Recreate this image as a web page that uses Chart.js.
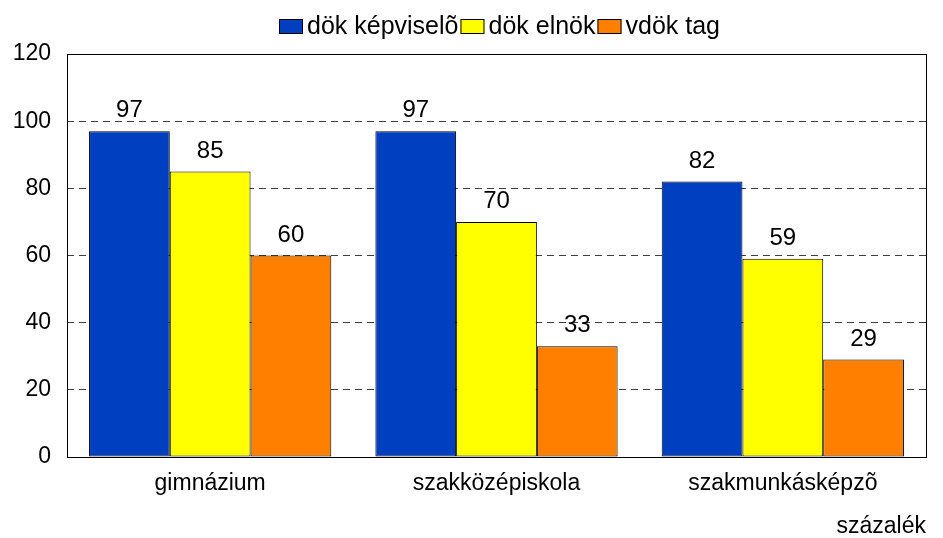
<!DOCTYPE html>
<html><head><meta charset="utf-8">
<script src="https://cdn.jsdelivr.net/npm/chart.js@4/dist/chart.umd.min.js"></script>
<style>html,body{margin:0;padding:0;background:#fff}#wrap{width:943px;height:538px}</style>
</head><body><div id="wrap"><canvas id="c" width="943" height="538"></canvas></div>
<script>
const categories = ["gimnázium", "szakközépiskola", "szakmunkásképzõ"];
const seriesNames = ["dök képviselõ", "dök elnök", "vdök tag"];
const kepviselo = [97, 97, 82];
const elnok = [85, 70, 59];
const vdokTag = [60, 33, 29];
const yTicks = [0, 20, 40, 60, 80, 100, 120];
const axisTitle = "százalék";

const FONT = "'Liberation Sans', Arial, sans-serif";
Chart.defaults.font.family = FONT;
Chart.defaults.color = "#000";

const frame = {
  id: 'frame',
  afterDatasetsDraw(chart) {
    const {ctx, chartArea: a} = chart;
    ctx.save();
    // data labels
    ctx.font = "24px " + FONT;
    ctx.fillStyle = "#000";
    ctx.textAlign = "center";
    ctx.textBaseline = "alphabetic";
    chart.data.datasets.forEach((ds, i) => {
      chart.getDatasetMeta(i).data.forEach((bar, j) => {
        ctx.fillText(String(ds.data[j]), bar.x, bar.y - 14);
      });
    });
    ctx.strokeStyle = "#000";
    ctx.lineWidth = 1;
    ctx.strokeRect(Math.round(a.left) + 0.5, Math.round(a.top) + 0.5, Math.round(a.right - a.left), Math.round(a.bottom - a.top));

    // legend
    ctx.font = "25px " + FONT;
    ctx.textAlign = "left";
    ctx.textBaseline = "middle";
    const boxW = 24, boxH = 15, gapText = 4, gapItem = 2;
    const items = chart.data.datasets.map(ds => ({label: ds.label, color: ds.backgroundColor, w: ctx.measureText(ds.label).width}));
    const total = items.reduce((s, it) => s + boxW + gapText + it.w, 0) + gapItem * (items.length - 1);
    let x = Math.round((a.left + a.right) / 2 - total / 2) + 3;
    const cy = 27;
    items.forEach(it => {
      ctx.fillStyle = it.color;
      ctx.fillRect(x, cy - 8, boxW, boxH);
      ctx.strokeStyle = '#000';
      ctx.strokeRect(x + 0.5, cy - 8 + 0.5, boxW - 1, boxH - 1);
      ctx.fillStyle = '#000';
      ctx.fillText(it.label, x + boxW + gapText, cy);
      x += boxW + gapText + it.w + gapItem;
    });
    ctx.restore();
  }
};

new Chart(document.getElementById('c'), {
  type: 'bar',
  data: {
    labels: categories,
    datasets: [
      {label: seriesNames[0], data: kepviselo, backgroundColor: '#0040C0'},
      {label: seriesNames[1], data: elnok, backgroundColor: '#FFFF00'},
      {label: seriesNames[2], data: vdokTag, backgroundColor: '#FF8000'}
    ]
  },
  options: {
    responsive: false,
    animation: false,
    devicePixelRatio: 1,
    layout: {padding: {left: 0, right: 17, top: 54, bottom: 0}},
    datasets: {bar: {borderColor: '#000', borderWidth: 1, borderSkipped: false, barPercentage: 1, categoryPercentage: 0.846}},
    plugins: {
      legend: {display: false},
      tooltip: {enabled: false}
    },
    scales: {
      x: {
        grid: {display: false, drawTicks: false},
        border: {display: false},
        ticks: {font: {size: 23, family: FONT}, color: '#000', padding: 13, maxRotation: 0},
        title: {display: true, text: axisTitle, align: 'end', font: {size: 23, family: FONT, lineHeight: 1}, color: '#000', padding: {top: 4, bottom: 0}},
        afterFit(s) { s.height = 538 - 457; }
      },
      y: {
        min: 0, max: 120,
        afterBuildTicks(s) { s.ticks = yTicks.map(v => ({value: v})); },
        grid: {
          color: (c) => (c.tick && (c.tick.value === 0 || c.tick.value === 120)) ? 'rgba(0,0,0,0)' : '#404040',
          drawTicks: false, lineWidth: 1
        },
        border: {display: false, dash: [7, 5]},
        ticks: {font: {size: 23, family: FONT}, color: '#000', padding: 16},
        afterFit(s) { s.width = 67; }
      }
    }
  },
  plugins: [frame]
});
</script></body></html>
